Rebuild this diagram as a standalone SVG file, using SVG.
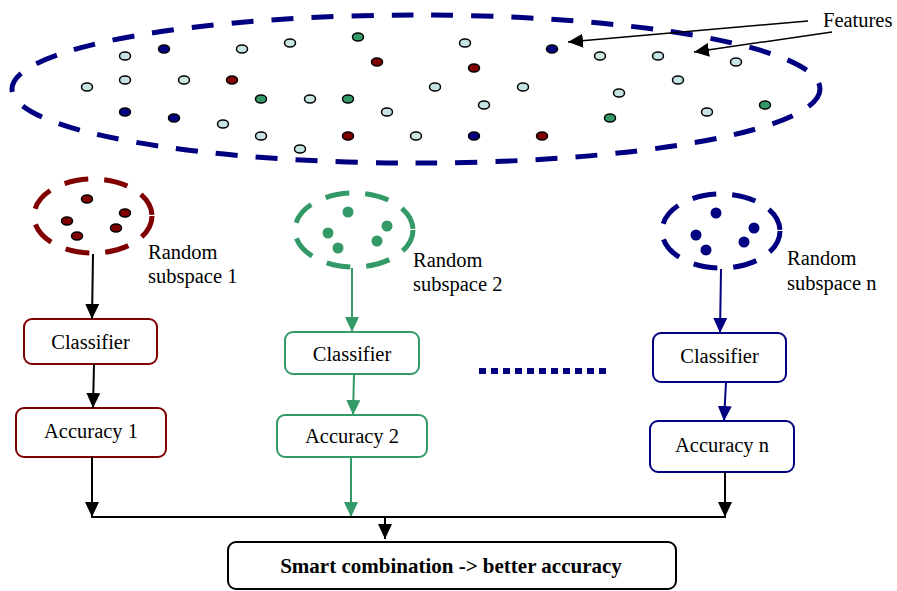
<svg xmlns="http://www.w3.org/2000/svg" width="897" height="591" viewBox="0 0 897 591">
<style>
text{font-family:"Liberation Serif","Times New Roman",serif;font-size:20.5px;fill:#000}
.c{text-anchor:middle}
.b{font-weight:bold;font-size:21px}
.f{stroke:#000;stroke-width:1.5}
.f ellipse{rx:5.5px;ry:4px}
.l{fill:#c6e4e4}.n{fill:#000080}.r{fill:#800000}.g{fill:#339966}
.box{fill:#fff;stroke-width:2}
.k{stroke:#000;stroke-width:2;fill:none}
</style>
<defs>
<marker id="ak" markerUnits="userSpaceOnUse" markerWidth="15" markerHeight="14" refX="15" refY="7" orient="auto"><path d="M0,0L15,7L0,14z" fill="#000"/></marker>
<marker id="ag" markerUnits="userSpaceOnUse" markerWidth="15" markerHeight="14" refX="15" refY="7" orient="auto"><path d="M0,0L15,7L0,14z" fill="#339966"/></marker>
<marker id="an" markerUnits="userSpaceOnUse" markerWidth="15" markerHeight="14" refX="15" refY="7" orient="auto"><path d="M0,0L15,7L0,14z" fill="#000080"/></marker>
</defs>

<g id="features">
<ellipse cx="416" cy="89" rx="404" ry="74" fill="none" stroke="#000080" stroke-width="5" stroke-dasharray="22 18"/>
<g class="f">
<ellipse class="l" cx="125" cy="56" rx="5.5" ry="4"/>
<ellipse class="n" cx="164" cy="49" rx="5.5" ry="4"/>
<ellipse class="l" cx="242" cy="49" rx="5.5" ry="4"/>
<ellipse class="l" cx="290" cy="43" rx="5.5" ry="4"/>
<ellipse class="g" cx="358" cy="37" rx="5.5" ry="4"/>
<ellipse class="r" cx="377" cy="62" rx="5.5" ry="4"/>
<ellipse class="l" cx="87" cy="87" rx="5.5" ry="4"/>
<ellipse class="l" cx="125" cy="80" rx="5.5" ry="4"/>
<ellipse class="l" cx="184" cy="80" rx="5.5" ry="4"/>
<ellipse class="r" cx="232" cy="80" rx="5.5" ry="4"/>
<ellipse class="g" cx="261" cy="99" rx="5.5" ry="4"/>
<ellipse class="l" cx="310" cy="99" rx="5.5" ry="4"/>
<ellipse class="g" cx="348" cy="99" rx="5.5" ry="4"/>
<ellipse class="l" cx="387" cy="112" rx="5.5" ry="4"/>
<ellipse class="l" cx="435" cy="87" rx="5.5" ry="4"/>
<ellipse class="n" cx="125" cy="112" rx="5.5" ry="4"/>
<ellipse class="n" cx="174" cy="118" rx="5.5" ry="4"/>
<ellipse class="l" cx="223" cy="124" rx="5.5" ry="4"/>
<ellipse class="l" cx="261" cy="136" rx="5.5" ry="4"/>
<ellipse class="r" cx="348" cy="136" rx="5.5" ry="4"/>
<ellipse class="l" cx="416" cy="136" rx="5.5" ry="4"/>
<ellipse class="l" cx="300" cy="149" rx="5.5" ry="4"/>
<ellipse class="l" cx="465" cy="43" rx="5.5" ry="4"/>
<ellipse class="n" cx="552" cy="49" rx="5.5" ry="4"/>
<ellipse class="l" cx="600" cy="56" rx="5.5" ry="4"/>
<ellipse class="l" cx="658" cy="56" rx="5.5" ry="4"/>
<ellipse class="l" cx="736" cy="62" rx="5.5" ry="4"/>
<ellipse class="r" cx="474" cy="68" rx="5.5" ry="4"/>
<ellipse class="l" cx="523" cy="87" rx="5.5" ry="4"/>
<ellipse class="l" cx="678" cy="80" rx="5.5" ry="4"/>
<ellipse class="l" cx="619" cy="93" rx="5.5" ry="4"/>
<ellipse class="l" cx="484" cy="105" rx="5.5" ry="4"/>
<ellipse class="g" cx="610" cy="118" rx="5.5" ry="4"/>
<ellipse class="l" cx="707" cy="112" rx="5.5" ry="4"/>
<ellipse class="g" cx="765" cy="105" rx="5.5" ry="4"/>
<ellipse class="n" cx="474" cy="136" rx="5.5" ry="4"/>
<ellipse class="r" cx="542" cy="136" rx="5.5" ry="4"/>
</g>
<text x="823" y="27">Features</text>
</g>

<g id="subspace1">
<ellipse cx="93" cy="216" rx="59" ry="37" fill="none" stroke="#800000" stroke-width="5" stroke-dasharray="24 16"/>
<g class="f">
<ellipse class="r" cx="87" cy="199" rx="5.5" ry="4.5"/>
<ellipse class="r" cx="125" cy="213" rx="5.5" ry="4.5"/>
<ellipse class="r" cx="67" cy="221" rx="5.5" ry="4.5"/>
<ellipse class="r" cx="116" cy="228" rx="5.5" ry="4.5"/>
<ellipse class="r" cx="77" cy="236" rx="5.5" ry="4.5"/>
</g>
<text x="148" y="259">Random</text>
<text x="148" y="283">subspace 1</text>
</g>

<g id="subspace2">
<ellipse cx="354" cy="230" rx="59" ry="37" fill="none" stroke="#339966" stroke-width="5" stroke-dasharray="24 16"/>
<circle class="g" cx="348" cy="212" r="5.5"/>
<circle class="g" cx="387" cy="226" r="5.5"/>
<circle class="g" cx="328" cy="233" r="5.5"/>
<circle class="g" cx="377" cy="241" r="5.5"/>
<circle class="g" cx="338" cy="248" r="5.5"/>
<text x="413" y="267">Random</text>
<text x="413" y="291">subspace 2</text>
</g>

<g id="subspacen">
<ellipse cx="721" cy="231" rx="59" ry="37" fill="none" stroke="#000080" stroke-width="5" stroke-dasharray="24 16"/>
<circle class="n" cx="716" cy="213" r="5.5"/>
<circle class="n" cx="754" cy="228" r="5.5"/>
<circle class="n" cx="696" cy="235" r="5.5"/>
<circle class="n" cx="744" cy="242" r="5.5"/>
<circle class="n" cx="706" cy="250" r="5.5"/>
<text x="787" y="265">Random</text>
<text x="787" y="290">subspace n</text>
</g>

<g id="classifier1"><rect class="box" x="24" y="319" width="133" height="45" rx="8" stroke="#800000"/><text class="c" x="90.5" y="349">Classifier</text></g>
<g id="accuracy1"><rect class="box" x="16" y="408" width="150" height="49" rx="8" stroke="#800000"/><text class="c" x="91" y="438">Accuracy 1</text></g>
<g id="classifier2"><rect class="box" x="285" y="332" width="134" height="42" rx="8" stroke="#339966"/><text class="c" x="352" y="361">Classifier</text></g>
<g id="accuracy2"><rect class="box" x="277" y="415" width="150" height="42" rx="8" stroke="#339966"/><text class="c" x="352" y="443">Accuracy 2</text></g>
<g id="classifiern"><rect class="box" x="653" y="333" width="133" height="49" rx="8" stroke="#000080"/><text class="c" x="719.5" y="363">Classifier</text></g>
<g id="accuracyn"><rect class="box" x="650" y="421" width="144" height="51" rx="8" stroke="#000080"/><text class="c" x="722" y="452">Accuracy n</text></g>
<g id="combination"><rect class="box" x="228" y="542" width="448" height="47" rx="8" stroke="#000"/><text class="c b" x="451" y="573">Smart combination -&gt; better accuracy</text></g>

<g id="connectors">
<line x1="808" y1="21" x2="568" y2="42" stroke="#000" stroke-width="1.5" marker-end="url(#ak)"/>
<line x1="832" y1="32" x2="694" y2="52" stroke="#000" stroke-width="1.5" marker-end="url(#ak)"/>
<line class="k" x1="93" y1="254" x2="92" y2="319" marker-end="url(#ak)"/>
<line class="k" x1="94" y1="364" x2="93" y2="408" marker-end="url(#ak)"/>
<line class="k" x1="92" y1="457" x2="92" y2="517" marker-end="url(#ak)"/>
<line x1="352" y1="268" x2="352" y2="332" stroke="#339966" stroke-width="2" marker-end="url(#ag)"/>
<line x1="354" y1="374" x2="353" y2="415" stroke="#339966" stroke-width="2" marker-end="url(#ag)"/>
<line x1="351" y1="457" x2="351" y2="517" stroke="#339966" stroke-width="2" marker-end="url(#ag)"/>
<line x1="721" y1="269" x2="720" y2="333" stroke="#000080" stroke-width="2" marker-end="url(#an)"/>
<line x1="726" y1="382" x2="724" y2="421" stroke="#000080" stroke-width="2" marker-end="url(#an)"/>
<line class="k" x1="725" y1="472" x2="725" y2="517" marker-end="url(#ak)"/>
<line class="k" x1="91" y1="517" x2="726" y2="517"/>
<line class="k" x1="385" y1="517" x2="385" y2="539" marker-end="url(#ak)"/>
<line x1="479" y1="371" x2="607" y2="371" stroke="#000080" stroke-width="6" stroke-dasharray="7 5"/>
</g>
</svg>
